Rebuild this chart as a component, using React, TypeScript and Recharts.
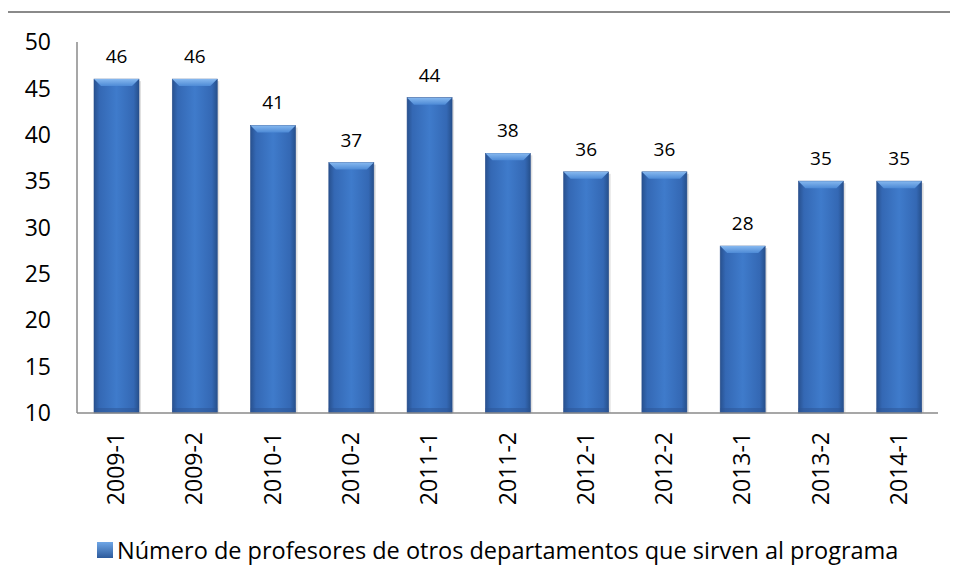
import { BarChart, Bar, XAxis, YAxis, LabelList } from 'recharts';

const categories = ['2009-1', '2009-2', '2010-1', '2010-2', '2011-1', '2011-2', '2012-1', '2012-2', '2013-1', '2013-2', '2014-1'];
const profesores = [46, 46, 41, 37, 44, 38, 36, 36, 28, 35, 35];
const yTicks = [10, 15, 20, 25, 30, 35, 40, 45, 50];
const seriesName = 'Número de profesores de otros departamentos que sirven al programa';

const data = categories.map((periodo, i) => ({ periodo, valor: profesores[i] }));

const FONT = '"Open Sans", "Liberation Sans", sans-serif';

// bevelled cylinder-ish bar like the Excel original
const BevelBar = (props: any) => {
  const { x, y, width, height } = props;
  if (!height || height <= 0) return null;
  const b = 7;
  return (
    <g>
      <rect x={x + 2} y={y + 2} width={width} height={height - 2} fill="#000" opacity={0.12} />
      <rect x={x} y={y} width={width} height={height} fill="url(#barGrad)" stroke="#2a4f8c" strokeWidth={0.6} />
      <polygon
        points={`${x},${y} ${x + width},${y} ${x + width - b},${y + b} ${x + b},${y + b}`}
        fill="url(#bevelGrad)"
      />
      <rect x={x} y={y + height - 5} width={width} height={5} fill="#2b5493" opacity={0.5} />
    </g>
  );
};

const XTick = (props: any) => {
  const { x, y, payload } = props;
  return (
    <text
      x={x}
      y={y}
      dy="0.35em"
      transform={`rotate(-90, ${x}, ${y})`}
      textAnchor="end"
      fontSize={23}
      fontFamily={FONT}
      fill="#000"
    >
      {payload.value}
    </text>
  );
};

const App: React.FC = () => {
  return (
    <div style={{ position: 'relative', width: 942, height: 560 }}>
      <div
        style={{
          position: 'absolute',
          left: -2,
          top: 3,
          width: 952,
          height: 570,
          boxSizing: 'border-box',
          borderTop: '2px solid #8a8a8a',
          borderLeft: '2px solid #8a8a8a',
        }}
      />
      <BarChart
        width={942}
        height={560}
        data={data}
        margin={{ top: 34, right: 12, left: 0, bottom: 55 }}
        barSize={45}
        style={{ position: 'absolute', left: 0, top: 0 }}
      >
        <defs>
          <linearGradient id="barGrad" x1="0" y1="0" x2="1" y2="0">
            <stop offset="0%" stopColor="#28518f" />
            <stop offset="12%" stopColor="#3468b4" />
            <stop offset="50%" stopColor="#3f7bcb" />
            <stop offset="88%" stopColor="#3468b4" />
            <stop offset="100%" stopColor="#26508c" />
          </linearGradient>
          <linearGradient id="bevelGrad" x1="0" y1="0" x2="0" y2="1">
            <stop offset="0%" stopColor="#86b8ef" />
            <stop offset="100%" stopColor="#4d8ad6" />
          </linearGradient>
        </defs>
        <XAxis
          dataKey="periodo"
          height={100}
          interval={0}
          tickLine={false}
          tickSize={0}
          tickMargin={19}
          tick={<XTick />}
          axisLine={{ stroke: '#8a8a8a', strokeWidth: 1.5 }}
        />
        <YAxis
          width={69}
          domain={[10, 50]}
          ticks={yTicks}
          interval={0}
          tickLine={false}
          tickSize={0}
          tickMargin={26}
          axisLine={{ stroke: '#8a8a8a', strokeWidth: 1.5 }}
          tick={{ fontSize: 23, fontFamily: FONT, fill: '#000' }}
        />
        <Bar dataKey="valor" name={seriesName} shape={<BevelBar />} isAnimationActive={false}>
          <LabelList dataKey="valor" position="top" offset={16} fontSize={19} fontFamily={FONT} fill="#000" />
        </Bar>
      </BarChart>
      <div
        style={{
          position: 'absolute',
          left: 89,
          top: 526,
          display: 'flex',
          alignItems: 'center',
          fontFamily: FONT,
          fontSize: 23.5,
          color: '#000',
          whiteSpace: 'nowrap',
        }}
      >
        <svg width={16} height={16} style={{ marginRight: 4 }}>
          <defs>
            <linearGradient id="legGrad" x1="0" y1="0" x2="0" y2="1">
              <stop offset="0%" stopColor="#6fa6e6" />
              <stop offset="100%" stopColor="#2c5a9c" />
            </linearGradient>
          </defs>
          <rect x={0} y={0} width={16} height={16} fill="url(#legGrad)" />
        </svg>
        <span>{seriesName}</span>
      </div>
    </div>
  );
};

export default App;
